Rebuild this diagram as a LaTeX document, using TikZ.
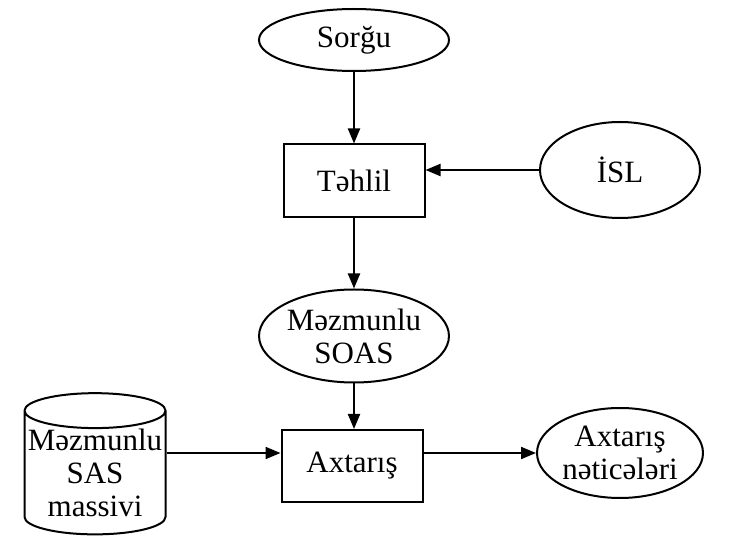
\documentclass[tikz,border=0pt]{standalone}
\usepackage{fontspec}
\setmainfont{Liberation Serif}
\usetikzlibrary{shapes.geometric,arrows.meta}
\tikzset{
  box/.style={draw, rectangle, line width=1pt, minimum width=70.5pt, minimum height=36pt, inner sep=0pt},
  oval/.style={draw, ellipse, line width=1pt, inner sep=0pt, align=center},
  store/.style={draw, cylinder, shape border rotate=90, aspect=0.26, line width=1pt,
    minimum width=70.5pt, minimum height=70pt, inner sep=0pt, align=center},
  flow/.style={line width=1pt, -{Triangle[length=7.5pt,width=6pt]}}
}
\begin{document}
\begin{tikzpicture}[x=0.5pt, y=-0.5pt, font=\fontsize{15.5}{16.5}\selectfont]
\useasboundingbox (0,0) rectangle (730,545);

\node[oval, minimum width=95pt, minimum height=31pt] (sorgu) at (354,40) {Sorğu};
\node[box, minimum height=36.5pt] (tehlil) at (354,181) {Təhlil};
\node[oval, minimum width=80pt, minimum height=48pt] (isl) at (620,170) {İSL};
\node[oval, minimum width=92.5pt, minimum height=46.5pt] (soas) at (354,336) {Məzmunlu\\SOAS};
\node[box] (axtaris) at (352,466) {Axtarış};
\node[store] (massiv) at (95,473) {Məzmunlu\\SAS\\massivi};
\node[oval, minimum width=83pt, minimum height=45pt] (netice) at (620,453) {Axtarış\\nəticələri};

\draw[flow] (sorgu) -- (tehlil);
\draw[flow] (isl.west) -- (tehlil.east |- isl.west);
\draw[flow] (tehlil) -- (soas);
\draw[flow] (soas) -- (soas |- axtaris.north);
\draw[flow] (massiv.east |- netice.west) -- (axtaris.west |- netice.west);
\draw[flow] (axtaris.east |- netice.west) -- (netice.west);
\end{tikzpicture}
\end{document}
